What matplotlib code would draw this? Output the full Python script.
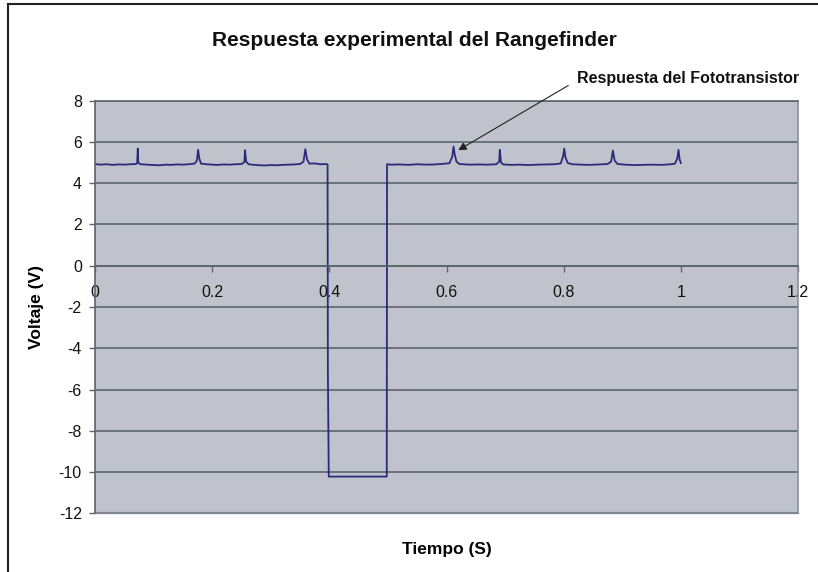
import numpy as np
import matplotlib.pyplot as plt
from matplotlib.lines import Line2D

plt.rcParams['font.family'] = ['Liberation Sans', 'DejaVu Sans']

# time (s) and voltage (V)
tiempo = [0.000, 0.010, 0.020, 0.030, 0.040, 0.050, 0.060, 0.070, 0.072, 0.073,
          0.074, 0.078, 0.090, 0.100, 0.110, 0.120, 0.130, 0.140, 0.150, 0.160,
          0.170, 0.174, 0.176, 0.178, 0.181, 0.190, 0.200, 0.210, 0.220, 0.230,
          0.240, 0.250, 0.255, 0.256, 0.258, 0.262, 0.275, 0.290, 0.300, 0.310,
          0.320, 0.330, 0.340, 0.350, 0.356, 0.359, 0.362, 0.366, 0.375, 0.385,
          0.395, 0.397, 0.3975, 0.399, 0.498, 0.4985,
          0.505, 0.520, 0.535, 0.550, 0.565, 0.580, 0.595, 0.605, 0.610, 0.612,
          0.614, 0.617, 0.622, 0.640, 0.655, 0.670, 0.685, 0.690, 0.691, 0.693,
          0.697, 0.710, 0.725, 0.740, 0.755, 0.770, 0.785, 0.795, 0.799, 0.801,
          0.803, 0.807, 0.815, 0.830, 0.845, 0.860, 0.875, 0.881, 0.884, 0.887,
          0.892, 0.905, 0.920, 0.935, 0.950, 0.965, 0.980, 0.990, 0.994, 0.996,
          0.998, 1.000]
voltaje = [4.93, 4.90, 4.92, 4.89, 4.91, 4.90, 4.92, 4.93, 5.00, 5.68,
           4.98, 4.92, 4.90, 4.88, 4.87, 4.90, 4.89, 4.91, 4.90, 4.92,
           4.95, 5.10, 5.62, 5.20, 4.95, 4.92, 4.90, 4.89, 4.91, 4.90,
           4.92, 4.93, 5.02, 5.60, 5.05, 4.92, 4.88, 4.86, 4.88, 4.87,
           4.89, 4.90, 4.91, 4.93, 5.05, 5.65, 5.15, 4.95, 4.96, 4.92,
           4.93, 4.90, -5.0, -10.22, -10.22, 4.92,
           4.90, 4.91, 4.89, 4.92, 4.90, 4.91, 4.94, 4.97, 5.30, 5.78,
           5.40, 5.05, 4.93, 4.90, 4.91, 4.90, 4.92, 5.05, 5.62, 5.00,
           4.91, 4.89, 4.90, 4.88, 4.90, 4.91, 4.92, 4.96, 5.30, 5.68,
           5.25, 4.98, 4.92, 4.90, 4.89, 4.91, 4.93, 5.05, 5.58, 5.10,
           4.93, 4.90, 4.88, 4.89, 4.90, 4.89, 4.91, 4.95, 5.20, 5.62,
           5.15, 4.98]

xticks = [0, 0.2, 0.4, 0.6, 0.8, 1.0, 1.2]
xlabels = ['0', '0.2', '0.4', '0.6', '0.8', '1', '1.2']
yticks = [-12, -10, -8, -6, -4, -2, 0, 2, 4, 6, 8]

fig = plt.figure(figsize=(8.18, 5.72), dpi=100)
ax = fig.add_axes([95/818, 58.7/572, 703/818, 412.6/572])
ax.set_facecolor('#c0c3cb')

gridc = '#5c646c'
ax.plot(tiempo, voltaje, color='#2c2a7c', lw=1.3)

ax.set_xlim(0, 1.2)
ax.set_ylim(-12, 8)
ax.set_yticks(yticks)
ax.set_yticklabels([str(v) for v in yticks])
ax.set_xticks(xticks)
ax.set_xticklabels(xlabels)
ax.yaxis.grid(True, color=gridc, lw=1.2)
ax.set_axisbelow(True)

ax.spines['bottom'].set_position(('data', 0))
ax.spines['bottom'].set_color(gridc)
ax.spines['bottom'].set_linewidth(1.2)
ax.spines['left'].set_color(gridc)
ax.spines['left'].set_linewidth(1.2)
ax.spines['top'].set_color(gridc)
ax.spines['top'].set_linewidth(1.2)
ax.spines['right'].set_color('#8a9098')
ax.spines['right'].set_linewidth(1.2)
ax.axhline(-12, color='#7f868e', lw=1.6, clip_on=False)

ax.tick_params(axis='y', direction='out', length=4.5, width=1, color=gridc,
               pad=5, labelsize=11.5, labelcolor='#111111')
ax.tick_params(axis='x', direction='out', length=4, width=1, color=gridc,
               pad=10, labelsize=11.5, labelcolor='#111111')

ax.set_xlabel('Tiempo (S)', fontsize=12.5, fontweight='bold', labelpad=0)
ax.xaxis.set_label_coords(0.5, -0.07)
ax.set_ylabel('Voltaje (V)', fontsize=12.5, fontweight='bold')
ax.yaxis.set_label_coords(-0.072, 0.5)

fig.text(0.507, 0.93, 'Respuesta experimental del Rangefinder', ha='center', va='center',
         fontsize=15, fontweight='bold', color='#111111')

ax.annotate('Respuesta del Fototransistor', xy=(0.620, 5.6), xytext=(0.823, 9.1),
            fontsize=11.5, fontweight='bold', color='#111111', va='center', ha='left',
            annotation_clip=False,
            arrowprops=dict(arrowstyle='-|>', color='#222222', lw=0.8,
                            mutation_scale=12, shrinkA=0, shrinkB=0,
                            relpos=(-0.04, 0.0)))

# chart border
fig.add_artist(Line2D([8/818, 8/818], [0, 1 - 4/572], transform=fig.transFigure,
                      color='#222222', lw=1.5))
fig.add_artist(Line2D([8/818, 1], [1 - 4/572, 1 - 4/572], transform=fig.transFigure,
                      color='#222222', lw=1.5))

fig.savefig('out.png', dpi=100)
